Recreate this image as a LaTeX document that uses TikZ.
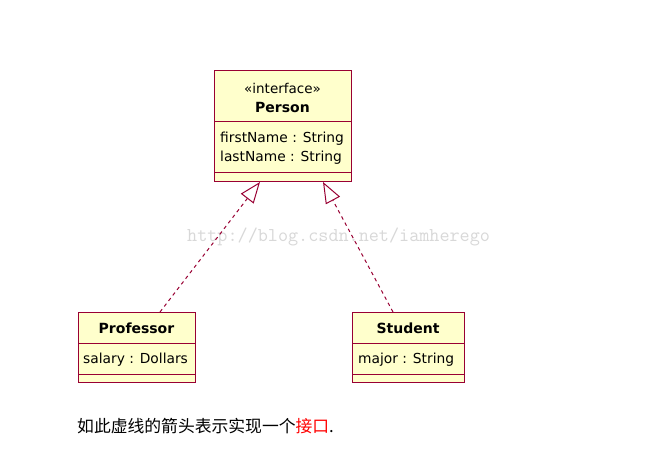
\documentclass[tikz,border=0pt]{standalone}
\usepackage{fontspec}
\setmainfont{DejaVu Sans}
\newfontfamily\cjk{Noto Sans CJK SC}
\usetikzlibrary{arrows.meta,calc}
\definecolor{umlred}{HTML}{990033}
\definecolor{umlfill}{HTML}{FFFFCC}
\definecolor{wmark}{HTML}{D8D8D8}
\tikzset{
  classbox/.style={draw=umlred, fill=umlfill, line width=1pt, rectangle, inner sep=0pt, anchor=north west},
  sepline/.style={draw=umlred, line width=1pt},
  attr/.style={anchor=west, inner sep=0pt, font=\fontsize{13.8}{15}\selectfont},
  stereo/.style={anchor=center, inner sep=0pt, font=\fontsize{13.5}{15}\selectfont},
  cname/.style={anchor=center, inner sep=0pt, font=\fontsize{14}{15}\selectfont\bfseries},
  realize/.style={draw=umlred, line width=1pt, dash pattern=on 3.5pt off 3.5pt,
    -{Triangle[length=21pt,width=16pt,fill=white,line width=1pt]}},
}
\begin{document}
\begin{tikzpicture}[x=1pt,y=-1pt]
\useasboundingbox (0,0) rectangle (658,452);
\fill[white] (0,0) rectangle (658,452);

% watermark
\node[anchor=west, inner sep=0pt, text=wmark, font=\fontsize{19.6}{20}\selectfont\ttfamily] (wm) at (187,237) {http://blog.csdn.net/iamherego};

% Person
\node[classbox, minimum width=137pt, minimum height=111pt] (person) at (214,70) {};
\draw[sepline] (214,121) -- (351,121);
\draw[sepline] (214,172) -- (351,172);
\node[stereo] (pst) at (282.5,88.5) {«interface»};
\node[cname] (pname) at (282.5,107) {Person};
\node[attr] (pa1) at (220,139) {firstName : String};
\node[attr] (pa2) at (220,157.5) {lastName : String};

% Professor
\node[classbox, minimum width=117pt, minimum height=70pt] (prof) at (78,312) {};
\draw[sepline] (78,343) -- (195,343);
\draw[sepline] (78,374) -- (195,374);
\node[cname] (profname) at (136.5,328) {Professor};
\node[attr] (profa) at (83,359.5) {salary : Dollars};

% Student
\node[classbox, minimum width=112pt, minimum height=70pt] (stud) at (352,312) {};
\draw[sepline] (352,343) -- (464,343);
\draw[sepline] (352,374) -- (464,374);
\node[cname] (studname) at (408,328) {Student};
\node[attr] (studa) at (358,359.5) {major : String};

% connectors
\path (prof.north west) ++(82,0) coordinate (profTop);
\path (stud.north west) ++(41,0) coordinate (studTop);
\path (person.south west) ++(46,0) coordinate (personL);
\path (person.south west) ++(109,0) coordinate (personR);
\draw[realize] (profTop) -- (personL);
\draw[realize] (studTop) -- (personR);

% caption
\node[anchor=west, inner sep=0pt, font=\fontsize{16.8}{18}\selectfont\cjk] (cap) at (77,426) {如此虚线的箭头表示实现一个\textcolor{red}{接口}.};
\end{tikzpicture}
\end{document}
